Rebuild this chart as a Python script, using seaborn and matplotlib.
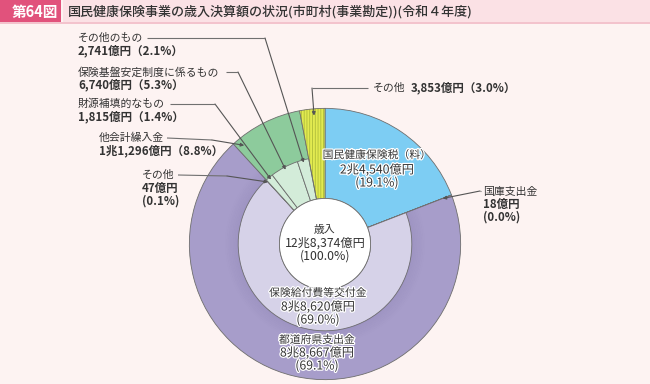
import numpy as np
import pandas as pd
import matplotlib
matplotlib.use("Agg")
import matplotlib.pyplot as plt
import seaborn as sns
from matplotlib.patches import Wedge, Rectangle, Circle
import matplotlib.patheffects as pe

# ---------------- data (億円) ----------------
outer_labels = ["国民健康保険税（料）", "国庫支出金", "都道府県支出金", "他会計繰入金", "その他"]
outer_values = [24540, 18, 88667, 11296, 3853]
outer_pcts = [19.1, 0.0, 69.1, 8.8, 3.0]

inner_labels = ["保険給付費等交付金", "その他", "財源補填的なもの", "保険基盤安定制度に係るもの", "その他のもの"]
inner_values = [88620, 47, 1815, 6740, 2741]
inner_pcts = [69.0, 0.1, 1.4, 5.3, 2.1]

total_label = "歳入"
total_value = 128374
total_pct = 100.0

title_no = "第64図"
title = "国民健康保険事業の歳入決算額の状況(市町村(事業勘定))(令和４年度)"

# ---------------- style ----------------
sns.set_theme(style="white")
plt.rcParams["font.family"] = ["Noto Sans CJK JP", "DejaVu Sans"]
plt.rcParams["hatch.linewidth"] = 0.55

BG = "#fdf3f2"
TXT = "#333333"
EDGE = "#6e6e6e"
outer_colors = ["#7dcdf3", "#7dcdf3", "#a79dca", "#8dcb9c", "#e2ea50"]
inner_colors = ["#d6d2e8", "#d3ecd9", "#d3ecd9", "#d3ecd9", "#d3ecd9"]


def oku(v):
    if v >= 10000:
        return f"{v // 10000}兆{v % 10000:,}億円"
    return f"{v:,}億円"


W, H = 650, 384
fig = plt.figure(figsize=(W / 100, H / 100), dpi=100, facecolor=BG)

# pie axes: centre (325,244) px, radius 137 px
CX, CY, R = 325, 244, 137
ax = fig.add_axes([(CX - R) / W, (H - CY - R) / H, 2 * R / W, 2 * R / H])
ax.set_facecolor("none")
HOLE = 0.336
RIN = 0.64

outer_w, _ = ax.pie(outer_values, radius=1.0, startangle=90, counterclock=False,
                    colors=outer_colors,
                    wedgeprops=dict(width=1.0 - HOLE, edgecolor=EDGE, linewidth=0.6))
inner_all = [outer_values[0], outer_values[1]] + inner_values + [outer_values[4]]
inner_cols = [outer_colors[0], outer_colors[1]] + inner_colors + [outer_colors[4]]
inner_w, _ = ax.pie(inner_all, radius=RIN, startangle=90, counterclock=False,
                    colors=inner_cols,
                    wedgeprops=dict(width=RIN - HOLE, edgecolor=EDGE, linewidth=0.6))
for i in (0, 1, len(inner_all) - 1):
    inner_w[i].set_visible(False)

# subtle shading on inner side of purple ring
pw = outer_w[2]
for k in range(8):
    r = RIN + k * 0.012
    ax.add_patch(Wedge((0, 0), r + 0.012, pw.theta1, pw.theta2, width=0.012,
                       facecolor="#5a4f86", alpha=0.10 * (1 - k / 8), linewidth=0))

# hatching for the yellow wedge
yw = outer_w[4]
yw.set_hatch("||||||")
yw.set_edgecolor("#a9b838")
yw.set_linewidth(0)
ax.add_patch(Wedge((0, 0), 1.0, yw.theta1, yw.theta2, width=1.0 - HOLE,
                   facecolor="none", edgecolor=EDGE, linewidth=0.6))

ax.add_patch(Circle((0, 0), HOLE, facecolor="white", edgecolor=EDGE, linewidth=0.6, zorder=5))
ax.set_xlim(-1.01, 1.01)
ax.set_ylim(-1.01, 1.01)
ax.axis("off")

# overlay in pixel coordinates
ov = fig.add_axes([0, 0, 1, 1], facecolor="none")
ov.set_xlim(0, W)
ov.set_ylim(H, 0)
ov.axis("off")

# title bar
ov.add_patch(Rectangle((0, 0), W, 22, facecolor="#fbe1e5", edgecolor="none"))
ov.add_patch(Rectangle((0, 22), W, 1.5, facecolor="#f3c3cd", edgecolor="none"))
ov.add_patch(Rectangle((0, 0), 61, 22, facecolor="#e1527c", edgecolor="none"))
ov.add_patch(Rectangle((61, 0), 2, 22, facecolor=BG, edgecolor="none"))
ov.text(35, 11.5, title_no, color="white", fontsize=10.5, fontweight="bold",
        ha="center", va="center")
ov.text(68, 11.5, title, color=TXT, fontsize=9.4, fontweight="medium",
        ha="left", va="center")

FS = 7.8     # label lines
FV = 8.3     # value lines (outside)
FI = 8.8     # number lines (inside)
halo = [pe.withStroke(linewidth=1.8, foreground="white")]


def tip(w, frac, r):
    th = np.deg2rad(w.theta1 + frac * (w.theta2 - w.theta1))
    return (r * np.cos(th), r * np.sin(th))


LC = "#707070"


def leader(pts, w, frac, r):
    xs, ys = zip(*pts)
    ov.plot(xs, ys, color=LC, lw=0.8, solid_capstyle="butt")
    ax.annotate("", xy=tip(w, frac, r), xycoords="data",
                xytext=pts[-1], textcoords=ov.transData,
                arrowprops=dict(arrowstyle="-|>", color="#555555", lw=0.8,
                                mutation_scale=5, shrinkA=0, shrinkB=0),
                zorder=10, annotation_clip=False)


# left labels (inner ring breakdown)
lx = 78
ov.text(lx, 38, inner_labels[4], fontsize=FS, color=TXT, va="center")
ov.text(lx, 51, f"{oku(inner_values[4])}（{inner_pcts[4]}%）", fontsize=FV,
        color=TXT, va="center", fontweight="bold")
leader([(147, 38), (265, 38)], inner_w[6], 0.5, 0.62)

ov.text(lx, 72, inner_labels[3], fontsize=FS, color=TXT, va="center")
ov.text(lx, 85, f"{oku(inner_values[3])}（{inner_pcts[3]}%）", fontsize=FV,
        color=TXT, va="center", fontweight="bold")
leader([(226, 72), (238, 72)], inner_w[5], 0.5, 0.62)

ov.text(lx, 104, inner_labels[2], fontsize=FS, color=TXT, va="center")
ov.text(lx, 117, f"{oku(inner_values[2])}（{inner_pcts[2]}%）", fontsize=FV,
        color=TXT, va="center", fontweight="bold")
leader([(170, 104), (215, 104)], inner_w[4], 0.5, 0.62)

ov.text(99, 138, outer_labels[3], fontsize=FS, color=TXT, va="center")
ov.text(99, 151, f"{oku(outer_values[3])}（{outer_pcts[3]}%）", fontsize=FV,
        color=TXT, va="center", fontweight="bold")
leader([(167, 138), (212, 140)], outer_w[3], 0.9, 0.94)

ov.text(142, 175, inner_labels[1], fontsize=FS, color=TXT, va="center")
ov.text(142, 188, oku(inner_values[1]), fontsize=FV, color=TXT, va="center", fontweight="bold")
ov.text(142, 201, f"({inner_pcts[1]}%)", fontsize=FV, color=TXT, va="center", fontweight="bold")
leader([(178, 175), (227, 176)], inner_w[3], 0.5, 0.62)

# yellow "その他"
ov.text(373, 88, outer_labels[4], fontsize=FS, color=TXT, va="center")
ov.text(411, 88, f"{oku(outer_values[4])}（{outer_pcts[4]}%）", fontsize=FV,
        color=TXT, va="center", fontweight="bold")
leader([(368, 88), (312, 88)], yw, 0.45, 0.95)

# 国庫支出金
ov.text(483, 192, outer_labels[1], fontsize=FS, color=TXT, va="center")
ov.text(483, 204, oku(outer_values[1]), fontsize=FV, color=TXT, va="center", fontweight="bold")
ov.text(483, 217, f"({outer_pcts[1]}%)", fontsize=FV, color=TXT, va="center", fontweight="bold")
leader([(481, 191), (480, 191)], outer_w[1], 0.5, 0.93)


# labels inside the rings
def block(x, ys, lines, sizes, effects=True):
    for y, s, fs in zip(ys, lines, sizes):
        ov.text(x, y, s, fontsize=fs, color=TXT, ha="center", va="center",
                path_effects=halo if effects else None, zorder=20)


block(377, [155, 170, 183], [outer_labels[0], oku(outer_values[0]), f"({outer_pcts[0]}%)"],
      [FS, FI, FI])
block(318, [293, 307, 320], [inner_labels[0], oku(inner_values[0]), f"({inner_pcts[0]}%)"],
      [FS, FI, FI])
block(317, [340, 353, 366], [outer_labels[2], oku(outer_values[2]), f"({outer_pcts[2]}%)"],
      [FS, FI, FI])
block(325, [230, 243, 256], [total_label, oku(total_value), f"({total_pct}%)"],
      [FS, FI, FI], effects=False)

fig.savefig("out.png", dpi=100, facecolor=BG)
